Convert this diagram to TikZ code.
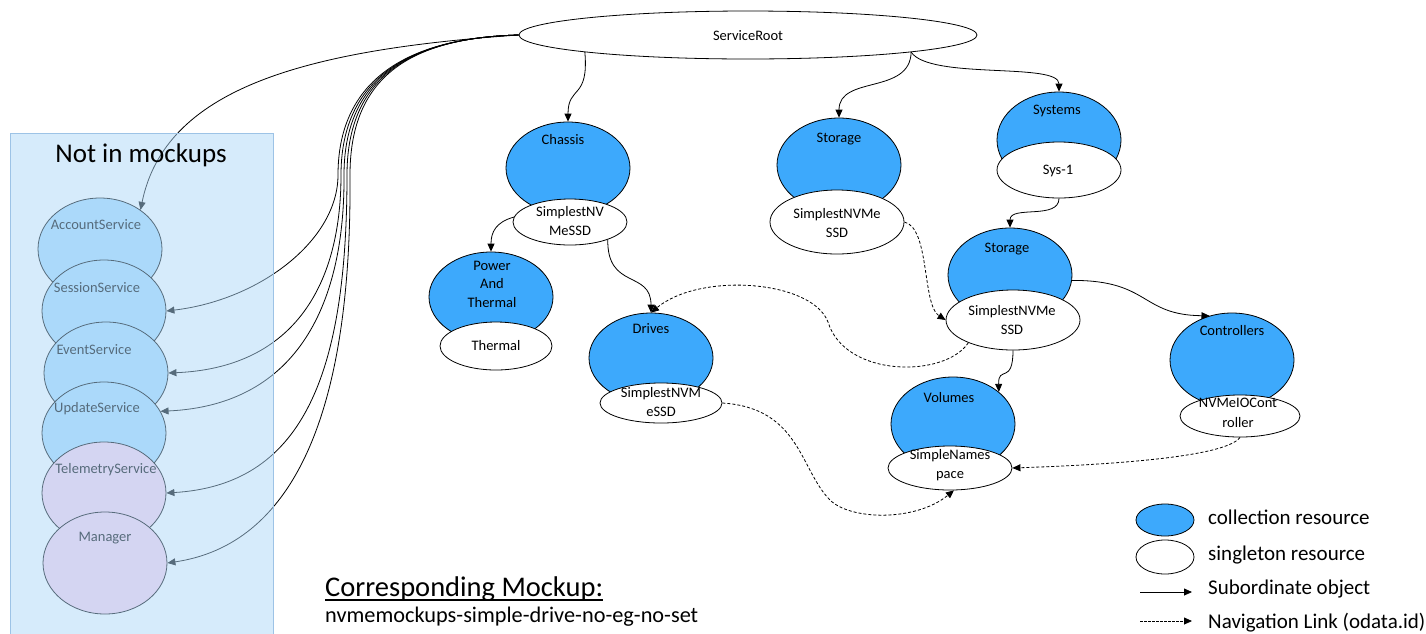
\documentclass[tikz,border=0pt]{standalone}
\usepackage{fontspec}
\setmainfont{Carlito}
\usetikzlibrary{shapes.geometric,arrows.meta}
\definecolor{collblue}{RGB}{61,169,252}
\definecolor{accfill}{RGB}{169,221,255}
\definecolor{lavfill}{RGB}{253,211,237}
\definecolor{boxfill}{RGB}{173,215,247}
\definecolor{boxline}{RGB}{157,195,230}
\newcommand\nodefnt{\fontsize{14.5}{19.5}\selectfont}
\newcommand\legfnt{\fontsize{21}{25}\selectfont}
\begin{document}
\begin{tikzpicture}[x=1pt,y=-1pt,
  coll/.style={ellipse, draw=black, fill=collblue, line width=0.8pt, inner sep=0pt},
  single/.style={ellipse, draw=black, fill=white, line width=0.8pt, inner sep=0pt},
  side/.style={ellipse, draw=black, line width=0.8pt, inner sep=0pt, minimum width=124pt, minimum height=102pt},
  lbl/.style={font=\nodefnt, inner sep=0pt, text height=9.3pt, text depth=0pt},
  lblm/.style={font=\nodefnt, inner sep=0pt, align=center},
  lgt/.style={font=\legfnt, inner sep=0pt, anchor=west, text height=13.5pt, text depth=0pt},
  sub/.style={-{Triangle[length=8pt,width=7pt]}, line width=0.8pt},
  nav/.style={sub, dash pattern=on 3pt off 2pt}]
\useasboundingbox (0,0) rectangle (1426,633);

% ---------- left column (not in mockups) ----------
\node[side, fill=accfill] (acc) at (100,249) {};
\node[side, fill=accfill] (ses) at (104,311) {};
\node[side, fill=accfill] (evt) at (106,373) {};
\node[side, fill=accfill] (upd) at (104,433) {};
\node[side, fill=lavfill] (tel) at (104,493) {};
\node[side, fill=lavfill] (mgr) at (105,563) {};
\node[lbl] (lacc) at (96,225) {AccountService};
\node[lbl] (lses) at (97,288) {SessionService};
\node[lbl] (levt) at (94,350) {EventService};
\node[lbl] (lupd) at (97,408) {UpdateService};
\node[lbl] (ltel) at (106,469) {TelemetryService};
\node[lbl] (lmgr) at (105,537) {Manager};

% ---------- service root ----------
\node[single, minimum width=458pt, minimum height=48pt] (sr) at (748,35) {};
\node[lbl] (lsr) at (748,36) {ServiceRoot};

% bundle of links to the left column
\draw[sub] (sr.west) .. controls (300,50) and (165,90) .. (acc.44);
\draw[sub] (sr.west) .. controls (400,38) and (338,85) .. (338,175)
  .. controls (338,240) and (260,300) .. (ses.east);
\draw[sub] (sr.west) .. controls (400,38) and (341,85) .. (341,175)
  .. controls (341,290) and (290,368) .. (evt.east);
\draw[sub] (sr.west) .. controls (400,38) and (344,85) .. (344,175)
  .. controls (345,300) and (300,405) .. (upd.21);
\draw[sub] (sr.west) .. controls (400,38) and (347,85) .. (347,175)
  .. controls (347,380) and (300,485) .. (tel.east);
\draw[sub] (sr.west) .. controls (400,38) and (350,85) .. (350,175)
  .. controls (352,420) and (290,545) .. (mgr.east);

% translucent box over the left column
\fill[boxfill, fill opacity=0.5] (10,133) rectangle (273,640);
\draw[boxline, line width=0.8pt] (10,640) -- (10,133) -- (273,133) -- (273,640);
\node[font=\fontsize{27}{31}\selectfont, inner sep=0pt] (nim) at (141,155) {Not in mockups};

% ---------- resources ----------
\node[coll, minimum width=124pt, minimum height=92pt] (chb) at (568,168) {};
\node[single, minimum width=114pt, minimum height=46pt] (chw) at (570,222) {};
\node[coll, minimum width=124pt, minimum height=90pt] (pb) at (491,297) {};
\node[single, minimum width=112pt, minimum height=48pt] (pw) at (496,346) {};
\node[coll, minimum width=124pt, minimum height=90pt] (db) at (651,358) {};
\node[single, minimum width=122pt, minimum height=40pt] (dw) at (661,403) {};
\node[coll, minimum width=124pt, minimum height=94pt] (s1b) at (839,165) {};
\node[single, minimum width=134pt, minimum height=64pt] (s1w) at (837,222) {};
\node[coll, minimum width=124pt, minimum height=96pt] (syb) at (1059,140) {};
\node[single, minimum width=124pt, minimum height=56pt] (syw) at (1059,170) {};
\node[coll, minimum width=124pt, minimum height=94pt] (s2b) at (1010,275) {};
\node[single, minimum width=134pt, minimum height=60pt] (s2w) at (1013,320) {};
\node[coll, minimum width=124pt, minimum height=94pt] (vb) at (953,424) {};
\node[single, minimum width=124pt, minimum height=44pt] (vw) at (950,468) {};
\node[coll, minimum width=124pt, minimum height=94pt] (cb) at (1232,360) {};
\node[single, minimum width=120pt, minimum height=42pt] (cw) at (1240,416) {};

\node[lbl] (lchb) at (563,140) {Chassis};
\node[lblm] (lchw) at (570,221) {SimplestNV\\MeSSD};
\node[lblm] (lpb) at (492,284) {Power\\[-1pt]And\\[-1pt]Thermal};
\node[lbl] (lpw) at (496,346) {Thermal};
\node[lbl] (ldb) at (651,329) {Drives};
\node[lblm] (ldw) at (661,402) {SimplestNVM\\eSSD};
\node[lbl] (ls1b) at (839,138) {Storage};
\node[lblm] (ls1w) at (837,223) {SimplestNVMe\\SSD};
\node[lbl] (lsyb) at (1057,110) {Systems};
\node[lbl] (lsyw) at (1058,170) {Sys-1};
\node[lbl] (ls2b) at (1007,248) {Storage};
\node[lblm] (ls2w) at (1012,320) {SimplestNVMe\\SSD};
\node[lbl] (lvb) at (949,398) {Volumes};
\node[lblm] (lvw) at (950,465) {SimpleNames\\pace};
\node[lbl] (lcb) at (1232,331) {Controllers};
\node[lblm] (lcw) at (1238,413) {NVMeIOCont\\roller};

% subordinate links
\draw[sub] (sr.186) .. controls (589,100) and (568,85) .. (chb.north);
\draw[sub] (sr.-6) .. controls (910,95) and (839,75) .. (s1b.north);
\draw[sub] (sr.-6) .. controls (930,80) and (1059,62) .. (syb.north);
\draw[sub] (chw.175) .. controls (496,222) and (491,232) .. (pb.north);
\draw[sub] (chw.-25) .. controls (607,290) and (651,270) .. (db.north);
\draw[sub] (syw.south) .. controls (1059,220) and (1010,205) .. (s2b.north);
\draw[sub] (s2b.-5) .. controls (1150,280) and (1140,315) .. (cb.117);
\draw[sub] (s2w.south) .. controls (1013,385) and (998,365) .. (vb.35);

% navigation links
\draw[nav] (s1w.east) .. controls (930,228) and (922,305) .. (s2w.west);
\draw[nav] (s2w.207) .. controls (945,378) and (845,378) .. (828,322)
  .. controls (812,280) and (700,272) .. (db.north);
\draw[nav] (dw.east) .. controls (800,408) and (800,470) .. (830,500)
  .. controls (850,520) and (915,522) .. (vw.-80);
\draw[nav] (cw.south) .. controls (1225,458) and (1100,465) .. (vw.east);

% ---------- legend ----------
\node[coll, minimum width=58pt, minimum height=32pt] (lgc) at (1165,520) {};
\node[single, minimum width=58pt, minimum height=34pt] (lgs) at (1165,557) {};
\coordinate (la1) at (1140,592);
\coordinate (lb1) at (1192,592);
\coordinate (la2) at (1140,621);
\coordinate (lb2) at (1192,621);
\draw[sub] (la1) -- (lb1);
\draw[nav, dash pattern=on 2.5pt off 1.5pt] (la2) -- (lb2);
\node[lgt] (tl1) at (1208,518) {collection resource};
\node[lgt] (tl2) at (1208,554) {singleton resource};
\node[lgt] (tl3) at (1208,588) {Subordinate object};
\node[lgt] (tl4) at (1208,622) {Navigation Link (odata.id)};

% ---------- mockup caption ----------
\node[font=\fontsize{28.5}{32}\selectfont, inner sep=0pt, anchor=base west] (cm) at (325,596) {Corresponding Mockup:};
\draw[line width=1.3pt] ([yshift=-4pt]cm.base west) -- ([yshift=-4pt]cm.base east);
\node[font=\fontsize{22.3}{26}\selectfont, inner sep=0pt, anchor=base west] (cmn) at (325,622) {nvmemockups-simple-drive-no-eg-no-set};
\end{tikzpicture}
\end{document}
